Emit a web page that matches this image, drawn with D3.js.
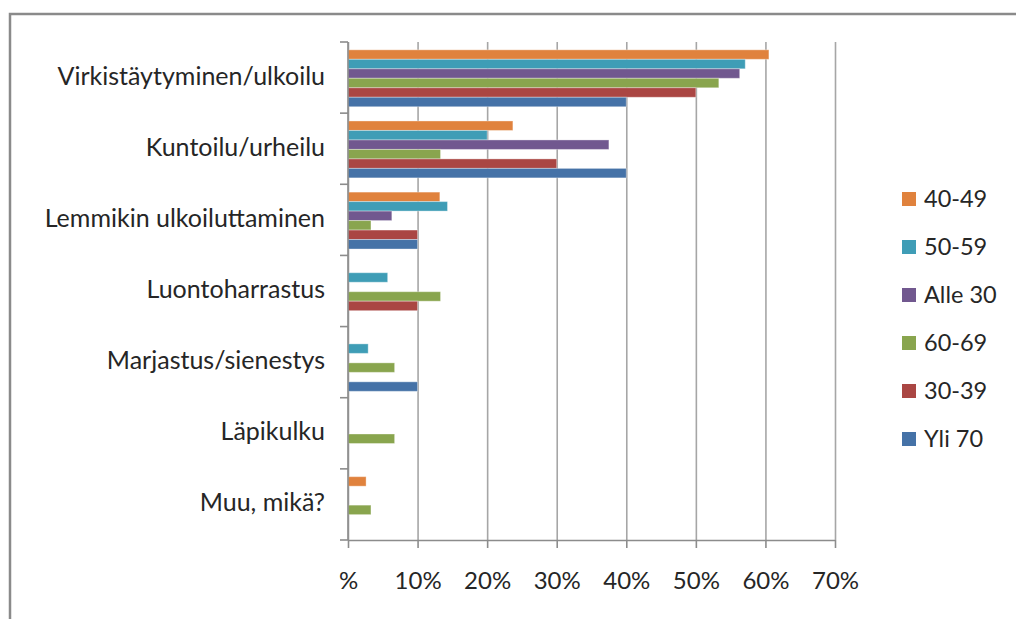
<!DOCTYPE html>
<html>
<head>
<meta charset="utf-8">
<script src="https://cdn.jsdelivr.net/npm/d3@7"></script>
<style>
body { margin: 0; background: #fff; }
svg text { font-family: Lato, "Open Sans", sans-serif; fill: #262626; }
</style>
</head>
<body>
<svg id="chart"></svg>
<script>
// categories top to bottom
var categories = ["Virkistäytyminen/ulkoilu", "Kuntoilu/urheilu", "Lemmikin ulkoiluttaminen",
  "Luontoharrastus", "Marjastus/sienestys", "Läpikulku", "Muu, mikä?"]

// series in legend / bar order (top bar first)
var seriesNames = ["40-49", "50-59", "Alle 30", "60-69", "30-39", "Yli 70"]
var seriesColors = ["#E0823D", "#3F9DB6", "#71588F", "#89A54E", "#AA4643", "#4572A7"]

var v4049 = [0.605, 0.237, 0.132, 0, 0, 0, 0.026]
var v5059 = [0.571, 0.200, 0.143, 0.057, 0.029, 0, 0]
var vAlle30 = [0.563, 0.375, 0.063, 0, 0, 0, 0]
var v6069 = [0.533, 0.133, 0.033, 0.133, 0.067, 0.067, 0.033]
var v3039 = [0.50, 0.30, 0.10, 0.10, 0, 0, 0]
var vYli70 = [0.40, 0.40, 0.10, 0, 0.10, 0, 0]

var xTicks = [0, 0.1, 0.2, 0.3, 0.4, 0.5, 0.6, 0.7]
var xTickLabels = ["%", "10%", "20%", "30%", "40%", "50%", "60%", "70%"]

var allValues = [v4049, v5059, vAlle30, v6069, v3039, vYli70]

var width = 1016, height = 619
var svg = d3.select("#chart").attr("width", width).attr("height", height)

// outer frame (only top and left edges are visible)
svg.append("path").attr("d", "M10,619 L10,14 L1016,14")
  .attr("fill", "none").attr("stroke", "#8a8a8a").attr("stroke-width", 2.5)

var x = d3.scaleLinear().domain([0, 0.7]).range([348, 835])
var y0 = d3.scaleBand().domain(categories).range([42, 540])
var y1 = d3.scaleBand().domain(seriesNames)
  .range([y0.bandwidth() * 0.11, y0.bandwidth() * 0.91])

// gridlines
svg.append("g").attr("transform", "translate(0,540)")
  .call(d3.axisBottom(x).tickValues(xTicks).tickSize(-498).tickFormat(""))
  .call(g => g.select(".domain").remove())
  .selectAll("line").attr("stroke", "#a6a6a6").attr("stroke-width", 1.6)

// bars
var rows = []
categories.forEach(function (c, i) {
  seriesNames.forEach(function (s, j) {
    rows.push({ cat: c, s: s, v: allValues[j][i], color: seriesColors[j] })
  })
})

svg.append("g").selectAll("rect")
  .data(rows.filter(d => d.v > 0))
  .enter().append("rect")
  .attr("x", x(0))
  .attr("y", d => y0(d.cat) + y1(d.s))
  .attr("width", d => x(d.v) - x(0))
  .attr("height", y1.bandwidth())
  .attr("fill", d => d.color)
  .attr("stroke", "rgba(255,255,255,0.35)").attr("stroke-width", 1)

// x axis
var xAxis = svg.append("g").attr("transform", "translate(0,540)")
  .call(d3.axisBottom(x).tickValues(xTicks).tickSize(8).tickPadding(24)
    .tickFormat((d, i) => xTickLabels[i]))
xAxis.select(".domain").attr("stroke", "#8c8c8c").attr("stroke-width", 1.6)
  .attr("d", "M348,0.5H835")
xAxis.selectAll("line").attr("stroke", "#8c8c8c").attr("stroke-width", 1.6)
xAxis.selectAll("text").attr("font-size", 24).attr("fill", "#262626")
  .style("font-family", "Lato, sans-serif")

// y axis
var catEdges = categories.map(c => y0(c)).concat([540])
var yAxis = svg.append("g")
yAxis.append("line").attr("x1", 348).attr("x2", 348).attr("y1", 42).attr("y2", 540)
  .attr("stroke", "#8c8c8c").attr("stroke-width", 1.6)
yAxis.selectAll(".tk").data(catEdges).enter().append("line")
  .attr("x1", 340).attr("x2", 348).attr("y1", d => d).attr("y2", d => d)
  .attr("stroke", "#8c8c8c").attr("stroke-width", 1.6)
yAxis.selectAll("text").data(categories).enter().append("text")
  .attr("x", 325)
  .attr("y", d => y0(d) + y0.bandwidth() / 2)
  .attr("dy", "0.28em")
  .attr("text-anchor", "end")
  .attr("font-size", 25)
  .text(d => d)

// legend
var legend = svg.append("g")
var ly = d3.scalePoint().domain(seriesNames).range([199, 439])
legend.selectAll("rect").data(seriesNames).enter().append("rect")
  .attr("x", 902).attr("y", d => ly(d) - 7).attr("width", 14).attr("height", 14)
  .attr("fill", (d, i) => seriesColors[i])
legend.selectAll("text").data(seriesNames).enter().append("text")
  .attr("x", 924).attr("y", d => ly(d)).attr("dy", "0.35em")
  .attr("font-size", 23.5)
  .text(d => d)
</script>
</body>
</html>
